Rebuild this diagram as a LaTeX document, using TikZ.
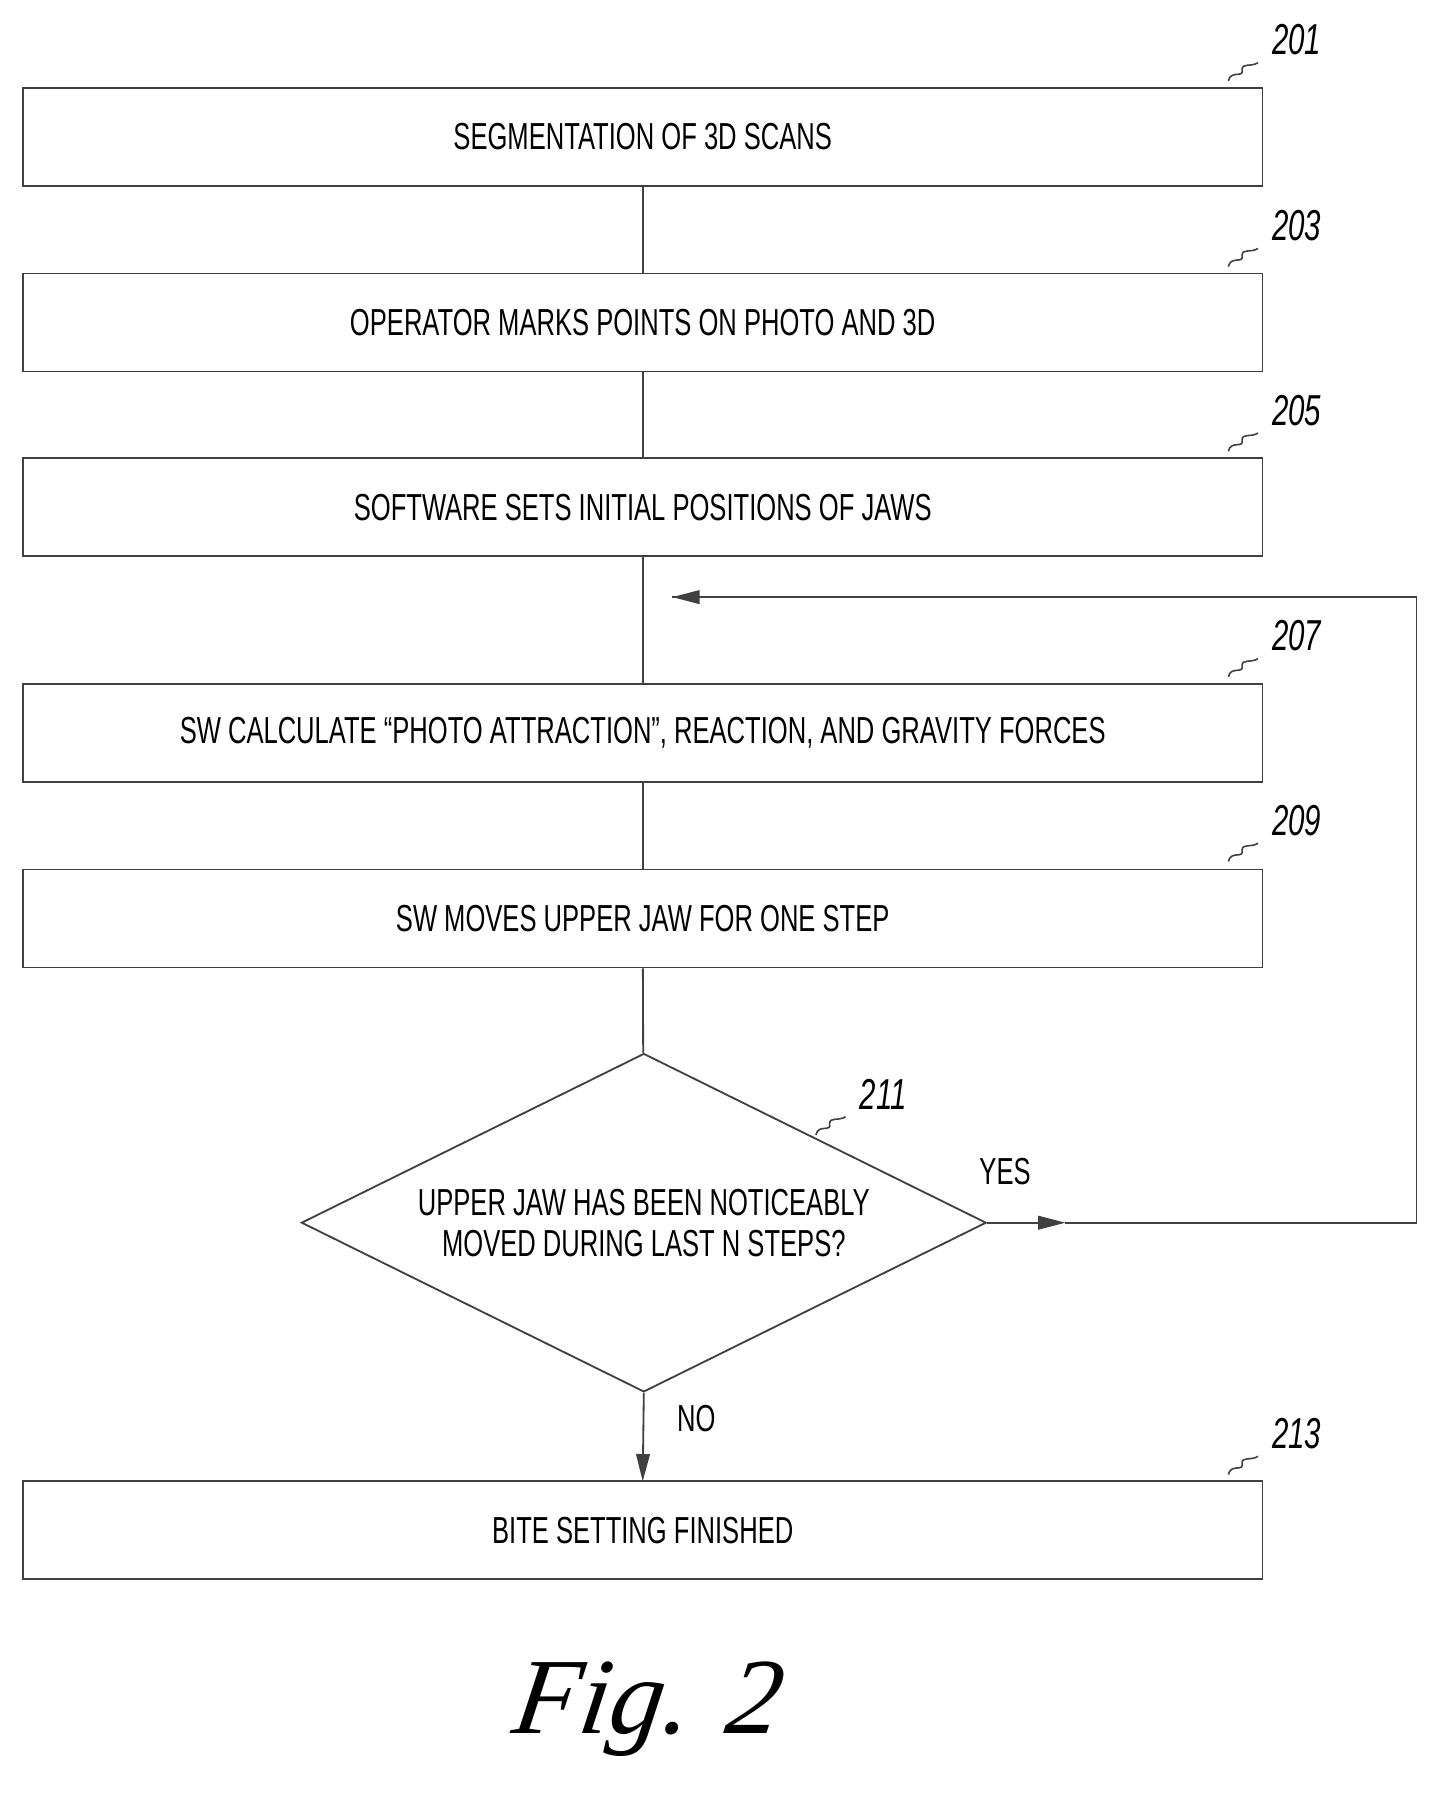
\documentclass[tikz,border=0pt]{standalone}
\usepackage{fontspec}
\setmainfont{Liberation Sans}[FakeStretch=0.68]
\newfontfamily\figfont{Liberation Serif}[FakeSlant=0.15]
\usetikzlibrary{shapes.geometric,arrows.meta}
\begin{document}
\begin{tikzpicture}[x=1pt,y=-1pt,
  box/.style={draw=black!75,line width=1.6pt,minimum width=1088pt,minimum height=86pt,inner sep=0pt,font=\fontsize{33}{36}\selectfont},
  lbl/.style={font=\fontsize{38}{40}\selectfont\itshape},
  ln/.style={draw=black!75,line width=1.6pt},
  arr/.style={ln,-{Triangle[length=24pt,width=12pt]}},
  txt/.style={font=\fontsize{33}{36}\selectfont}]
\useasboundingbox (0,0) rectangle (1270,1577);
\node[box] (b1) at (564,120) {SEGMENTATION OF 3D SCANS};
\node[box] (b2) at (564,283) {OPERATOR MARKS POINTS ON PHOTO AND 3D};
\node[box] (b3) at (564,445) {SOFTWARE SETS INITIAL POSITIONS OF JAWS};
\node[box] (b4) at (564,643) {SW CALCULATE “PHOTO ATTRACTION”, REACTION, AND GRAVITY FORCES};
\node[box] (b5) at (564,806) {SW MOVES UPPER JAW FOR ONE STEP};
\node[box] (b6) at (564,1343) {BITE SETTING FINISHED};
\node[draw=black!75,line width=1.6pt,diamond,aspect=2.02,minimum width=601pt,minimum height=297pt,inner sep=0pt,align=center,font=\fontsize{33}{36}\selectfont] (d) at (565,1073) {UPPER JAW HAS BEEN NOTICEABLY\\MOVED DURING LAST N STEPS?};
\coordinate (j) at (564,524);
\coordinate (ja) at (590,524);
\coordinate (r1) at (1243,1073);
\coordinate (r2) at (1243,524);
\coordinate (ya) at (935,1073);
\coordinate (na) at (564,1300);
\draw[ln] (b1) -- (b2);
\draw[ln] (b2) -- (b3);
\draw[ln] (b3) -- (b4);
\draw[ln] (b4) -- (b5);
\draw[ln] (b5) -- (d);
\draw[arr] (d.east) -- (ya);
\draw[ln] (ya) -- (r1) -- (r2) -- (ja);
\draw[arr] (r2) -- (ja);
\draw[arr] (d.south) -- (na);
\node[txt] (yes) at (882,1028) {YES};
\node[txt] (no) at (611,1245) {NO};
\foreach \n/\y/\t in {l1/77/201,l2/240/203,l3/402/205,l4/600/207,l5/762/209,l6/1300/213}{
  \node[lbl] (\n) at (1138,\y-42) {\t};
  \draw[ln,line width=1.4pt] (1078,\y-6) .. controls (1080,\y-16) and (1092,\y-8) .. (1090,\y-16) .. controls (1090,\y-22) and (1098,\y-18) .. (1104,\y-22);
}
\node[lbl] (l7) at (775,960) {211};
\draw[ln,line width=1.4pt] (716,996) .. controls (718,986) and (730,994) .. (728,986) .. controls (728,980) and (736,984) .. (742,980);
\node[font=\fontsize{95}{95}\selectfont\figfont\itshape] (fig) at (565,1500) {Fig. 2};
\end{tikzpicture}
\end{document}
